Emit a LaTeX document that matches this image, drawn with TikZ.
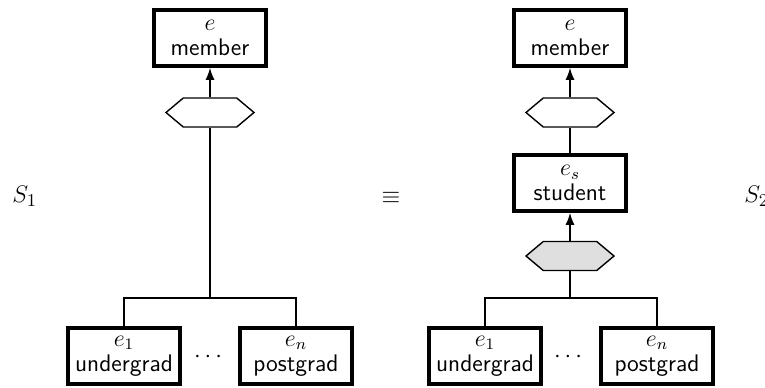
\documentclass[tikz,border=0pt]{standalone}
\usepackage{amsmath}
\usepackage{amssymb}
\usepackage{tikz}
\usetikzlibrary{shapes.symbols,arrows.meta}

\begin{document}
\begin{tikzpicture}[x=0.5pt,y=-0.5pt,
  entity/.style={draw,line width=1.8pt,minimum width=56pt,minimum height=28pt,
    inner sep=0pt,align=center,font=\fontsize{12}{12.5}\selectfont\sffamily},
  rel/.style={draw,line width=0.7pt,shape=signal,signal to=east and west,
    signal pointer angle=80,minimum width=44pt,minimum height=14.5pt,inner sep=0pt},
  isa/.style={rel,fill=gray!25},
  link/.style={line width=0.7pt},
  up/.style={link,-{Latex[length=6pt,width=4.5pt]}},
  lbl/.style={font=\fontsize{12.5}{13}\selectfont}]
\useasboundingbox (0,0) rectangle (765,387);

% S_1
\node [entity] (mem1) at (210,38) {$e$\\member};
\node [rel] (hex1) at (210,112.5) {};
\node [entity] (ug1) at (124,356) {$e_1$\\undergrad};
\node [entity] (pg1) at (296,356) {$e_n$\\postgrad};
\node [lbl] (dots1) at (210,357) {$\cdots$};
\coordinate (j1) at (210,298);
\draw [up] (hex1) -- (mem1);
\draw [link] (hex1.south) -- (j1);
\draw [link] (ug1.north) |- (j1) -| (pg1.north);

% S_2
\node [entity] (mem2) at (570,38) {$e$\\member};
\node [rel] (hex2) at (570,112.5) {};
\node [entity] (stu) at (570,183) {$e_s$\\student};
\node [isa] (hex3) at (570,256) {};
\node [entity] (ug2) at (485,356) {$e_1$\\undergrad};
\node [entity] (pg2) at (657,356) {$e_n$\\postgrad};
\node [lbl] (dots2) at (570,357) {$\cdots$};
\coordinate (j2) at (570,298);
\draw [up] (hex2) -- (mem2);
\draw [link] (hex2) -- (stu);
\draw [up] (hex3) -- (stu);
\draw [link] (hex3.south) -- (j2);
\draw [link] (ug2.north) |- (j2) -| (pg2.north);

\node [lbl,anchor=west,inner sep=0pt] (s1) at (12,196) {$S_1$};
\node [lbl] (eq) at (391,198) {$\equiv$};
\node [lbl,anchor=west,inner sep=0pt] (s2) at (744,196) {$S_2$};
\end{tikzpicture}
\end{document}
